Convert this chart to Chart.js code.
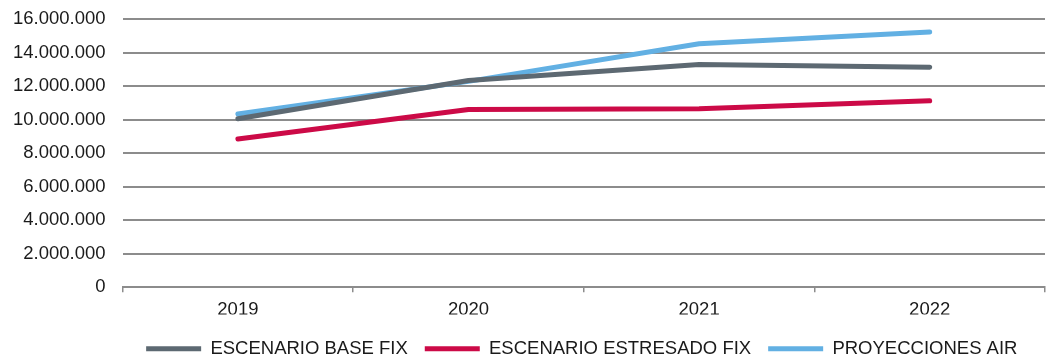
<!DOCTYPE html>
<html>
<head>
<meta charset="utf-8">
<script src="https://cdn.jsdelivr.net/npm/chart.js@4.4.1/dist/chart.umd.min.js"></script>
<style>
  html, body { margin: 0; padding: 0; background: #ffffff; }
  #wrap { width: 1048px; height: 360px; position: relative; }
</style>
</head>
<body>
<div id="wrap"><canvas id="c" width="1048" height="360"></canvas></div>
<script>
const categories = ['2019', '2020', '2021', '2022'];
const seriesNames = ['ESCENARIO BASE FIX', 'ESCENARIO ESTRESADO FIX', 'PROYECCIONES AIR'];
const baseFix = [10050000, 12330000, 13280000, 13130000];
const estresadoFix = [8850000, 10600000, 10650000, 11120000];
const proyeccionesAir = [10330000, 12280000, 14520000, 15230000];
const yTickValues = [0, 2000000, 4000000, 6000000, 8000000, 10000000, 12000000, 14000000, 16000000];

const colors = ['#5d6972', '#cc0a47', '#62b0e3'];
const FONT = 'Liberation Sans, Arial, sans-serif';

function fmt(v) {
  return String(Math.round(v)).replace(/\B(?=(\d{3})+(?!\d))/g, '.');
}

const legendShift = {
  id: 'legendShift',
  afterLayout(chart) {
    const lg = chart.legend;
    const ca = chart.chartArea;
    if (!lg || !ca) return;
    const w = lg.right - lg.left;
    const center = (ca.left + ca.right) / 2;
    lg.left = center - w / 2 - 2;
    lg.right = center + w / 2 - 2;
    lg.top += 8;
    lg.bottom += 8;
  }
};

const mkDs = (label, data, color) => ({
  label, data,
  borderColor: color,
  backgroundColor: color,
  borderWidth: 5,
  borderCapStyle: 'round',
  borderJoinStyle: 'round',
  pointRadius: 0,
  pointHoverRadius: 0,
  pointStyle: 'line',
  tension: 0,
  fill: false
});

new Chart(document.getElementById('c'), {
  type: 'line',
  data: {
    labels: categories,
    datasets: [
      mkDs(seriesNames[0], baseFix, colors[0]),
      mkDs(seriesNames[1], estresadoFix, colors[1]),
      mkDs(seriesNames[2], proyeccionesAir, colors[2])
    ]
  },
  plugins: [legendShift],
  options: {
    responsive: false,
    animation: false,
    layout: { padding: { top: 19, right: 3, left: -4, bottom: 0 } },
    plugins: {
      tooltip: { enabled: false },
      legend: {
        position: 'bottom',
        labels: {
          usePointStyle: true,
          pointStyleWidth: 55,
          boxHeight: 5,
          padding: 17,
          color: '#1a1a1a',
          font: { family: FONT, size: 18.5 }
        }
      }
    },
    scales: {
      x: {
        offset: true,
        afterFit(axis) { axis.height -= 14; },
        grid: {
          offset: true,
          display: true,
          drawOnChartArea: false,
          drawTicks: true,
          tickLength: 5,
          color: '#8c8c8c',
          lineWidth: 1.5
        },
        border: { display: true, color: '#8c8c8c', width: 2 },
        ticks: {
          color: '#1a1a1a',
          padding: 7,
          font: { family: FONT, size: 18.5 }
        }
      },
      y: {
        min: 0,
        max: 16000000,
        afterBuildTicks(axis) { axis.ticks = yTickValues.map(v => ({ value: v })); },
        afterFit(axis) { axis.paddingTop = 0; },
        grid: {
          color: '#8c8c8c',
          lineWidth: 2,
          drawTicks: false
        },
        border: { display: false },
        ticks: {
          color: '#1a1a1a',
          padding: 17,
          font: { family: FONT, size: 18.5 },
          callback: (v) => fmt(v)
        }
      }
    }
  }
});
</script>
</body>
</html>
